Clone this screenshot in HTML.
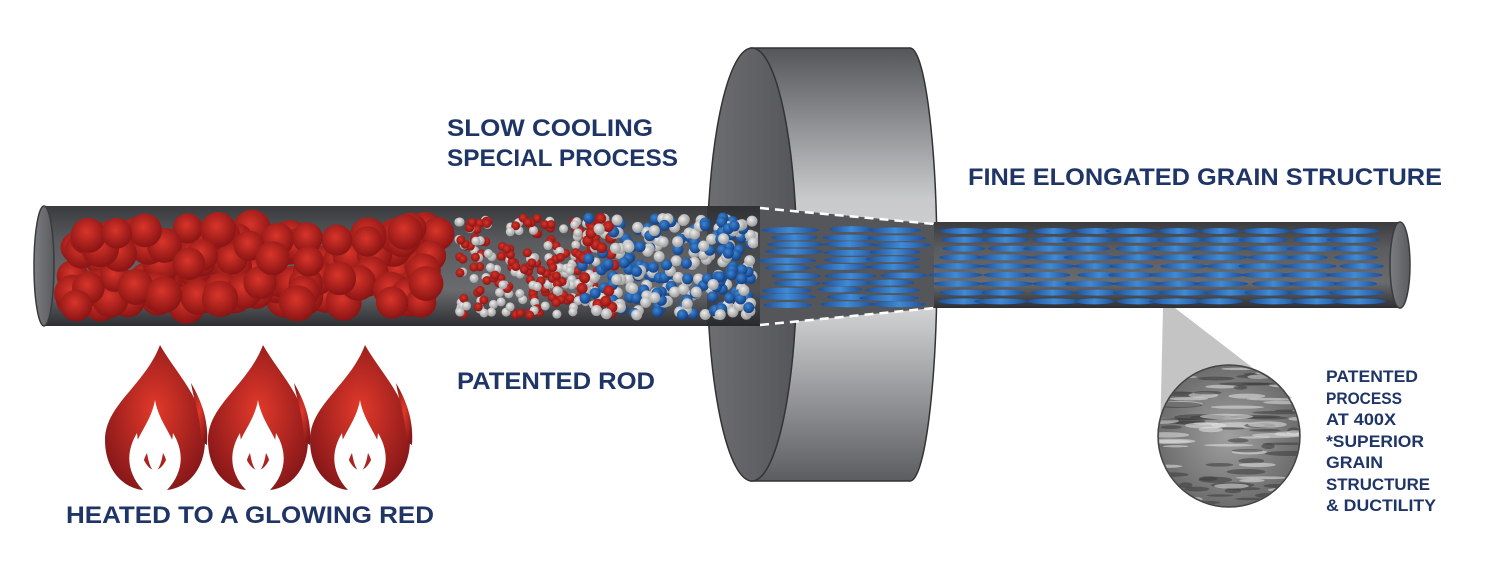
<!DOCTYPE html>
<html><head><meta charset="utf-8"><style>
html,body{margin:0;padding:0;background:#fff;width:1494px;height:566px;overflow:hidden}
svg{display:block}
text{font-family:"Liberation Sans",sans-serif;font-weight:bold;fill:#1f3566}
</style></head><body>
<svg id="s" width="1494" height="566" viewBox="0 0 1494 566" xmlns="http://www.w3.org/2000/svg">
<defs>
<linearGradient id="rod" x1="0" y1="0" x2="0" y2="1">
<stop offset="0" stop-color="#3a3b3e"/><stop offset="0.3" stop-color="#5a5b5e"/><stop offset="0.7" stop-color="#6a6b6e"/><stop offset="1" stop-color="#2e2f32"/></linearGradient>
<linearGradient id="cap" x1="0" y1="0" x2="1" y2="0"><stop offset="0" stop-color="#7c7d80"/><stop offset="1" stop-color="#5a5b5e"/></linearGradient>
<linearGradient id="body" x1="0" y1="0" x2="0" y2="1">
<stop offset="0" stop-color="#555659"/><stop offset="0.35" stop-color="#c9cacc"/><stop offset="0.6" stop-color="#d2d3d5"/><stop offset="1" stop-color="#5c5d60"/></linearGradient>
<linearGradient id="face" x1="0" y1="0" x2="1" y2="0"><stop offset="0" stop-color="#6d6e71"/><stop offset="1" stop-color="#55565a"/></linearGradient>
<radialGradient id="red" cx="0.45" cy="0.4" r="0.6"><stop offset="0" stop-color="#d8352a"/><stop offset="1" stop-color="#8a1414"/></radialGradient>
<radialGradient id="gray" cx="0.4" cy="0.35" r="0.65"><stop offset="0" stop-color="#eeeeee"/><stop offset="1" stop-color="#9a9a9a"/></radialGradient>
<radialGradient id="blue" cx="0.4" cy="0.35" r="0.65"><stop offset="0" stop-color="#3d86d4"/><stop offset="1" stop-color="#123f84"/></radialGradient>
<linearGradient id="bl" x1="0" y1="0" x2="1" y2="0"><stop offset="0" stop-color="#1b4f9a"/><stop offset="0.5" stop-color="#3f8ad6"/><stop offset="1" stop-color="#1b4f9a"/></linearGradient>
<radialGradient id="flame" cx="0.5" cy="0.45" r="0.6"><stop offset="0" stop-color="#e2392a"/><stop offset="1" stop-color="#861719"/></radialGradient>
<radialGradient id="mag" cx="0.5" cy="0.5" r="0.5"><stop offset="0" stop-color="#a0a0a0"/><stop offset="1" stop-color="#6d6d6d"/></radialGradient>
<clipPath id="cc"><circle cx="1229" cy="436" r="70"/></clipPath>
<clipPath id="lr"><rect x="42" y="208" width="716" height="117"/></clipPath>
<g id="fl">
<path d="M55,0 C72,30 100,55 100,95 C100,125 82,143 62,145 C78,128 80,108 68,88 C66,110 58,125 50,125 C42,125 34,110 32,88 C20,108 22,128 38,145 C18,143 0,125 0,95 C0,60 40,40 55,0 Z" fill="url(#flame)"/>
<path d="M50,55 C54,78 70,92 72,110 C73,128 66,140 58,145 C64,132 64,118 58,108 C56,120 53,126 50,126 C47,126 44,120 42,108 C36,118 36,132 42,145 C34,140 27,128 28,110 C30,92 46,78 50,55 Z" fill="#fff"/>
<path d="M86,38 C96,55 104,75 102,100 L96,96 C96,75 90,60 86,38 Z" fill="url(#flame)"/>
</g>
</defs>

<!-- die -->
<ellipse cx="910" cy="264.5" rx="27" ry="216.5" fill="url(#body)" stroke="#333" stroke-width="1.5"/>
<rect x="750" y="48" width="160" height="433" fill="url(#body)"/>
<line x1="750" y1="48" x2="910" y2="48" stroke="#333" stroke-width="1.5"/>
<line x1="750" y1="481" x2="910" y2="481" stroke="#333" stroke-width="1.5"/>
<ellipse cx="752" cy="264.5" rx="45" ry="216.5" fill="url(#face)" stroke="#333" stroke-width="1.5"/>

<!-- left rod -->
<rect x="42" y="206" width="718" height="120" fill="url(#rod)"/>
<rect x="707" y="206" width="53" height="120" fill="#1e1f22" opacity="0.35"/>
<ellipse cx="44" cy="266" rx="10" ry="60" fill="url(#cap)" stroke="#3a3b3e" stroke-width="1.5"/>
<g id="dots" clip-path="url(#lr)"></g>

<polygon points="760,207 934,224 934,308 760,325" fill="#55565a"/>
<g id="cone"></g>
<line x1="760" y1="208" x2="934" y2="224" stroke="#fff" stroke-width="2.5" stroke-dasharray="9,6"/>
<line x1="760" y1="325" x2="934" y2="308" stroke="#fff" stroke-width="2.5" stroke-dasharray="9,6"/>

<!-- right rod -->
<rect x="934" y="222" width="466" height="86" fill="url(#rod)"/>
<ellipse cx="1400" cy="265" rx="10" ry="43" fill="url(#cap)" stroke="#3a3b3e" stroke-width="1.5"/>
<g id="right"></g>

<!-- magnifier -->
<polygon points="1163,308 1175,308 1292,398 1160,440" fill="#c4c4c4"/>
<circle cx="1229" cy="436" r="71" fill="url(#mag)" stroke="#444" stroke-width="1.5"/>
<g id="tex" clip-path="url(#cc)"></g>

<!-- flames -->
<use href="#fl" transform="translate(105,345)"/>
<use href="#fl" transform="translate(208,345)"/>
<use href="#fl" transform="translate(310,345)"/>

<text x="447" y="136" font-size="24" textLength="206" lengthAdjust="spacingAndGlyphs">SLOW COOLING</text>
<text x="447" y="166" font-size="24" textLength="231" lengthAdjust="spacingAndGlyphs">SPECIAL PROCESS</text>
<text x="968" y="185" font-size="24" textLength="474" lengthAdjust="spacingAndGlyphs">FINE ELONGATED GRAIN STRUCTURE</text>
<text x="457" y="389" font-size="24" textLength="198" lengthAdjust="spacingAndGlyphs">PATENTED ROD</text>
<text x="66" y="523" font-size="24" textLength="368" lengthAdjust="spacingAndGlyphs">HEATED TO A GLOWING RED</text>
<g font-size="16.5">
<text x="1326" y="382" textLength="92" lengthAdjust="spacingAndGlyphs">PATENTED</text>
<text x="1326" y="404" textLength="76" lengthAdjust="spacingAndGlyphs">PROCESS</text>
<text x="1326" y="425" textLength="70" lengthAdjust="spacingAndGlyphs">AT 400X</text>
<text x="1326" y="447" textLength="98" lengthAdjust="spacingAndGlyphs">*SUPERIOR</text>
<text x="1326" y="468" textLength="57" lengthAdjust="spacingAndGlyphs">GRAIN</text>
<text x="1326" y="490" textLength="104" lengthAdjust="spacingAndGlyphs">STRUCTURE</text>
<text x="1326" y="511" textLength="110" lengthAdjust="spacingAndGlyphs">&amp; DUCTILITY</text>
</g>
</svg>
<script>
var NS="http://www.w3.org/2000/svg";
var seed=7;function r(){seed=(seed*16807)%2147483647;return (seed-1)/2147483646;}
function c(g,x,y,rad,f){var e=document.createElementNS(NS,"circle");e.setAttribute("cx",x);e.setAttribute("cy",y);e.setAttribute("r",rad);e.setAttribute("fill",f);g.appendChild(e);}
function el(g,x,y,rx,ry,f){var e=document.createElementNS(NS,"ellipse");e.setAttribute("cx",x);e.setAttribute("cy",y);e.setAttribute("rx",rx);e.setAttribute("ry",ry);e.setAttribute("fill",f);g.appendChild(e);}
var d=document.getElementById("dots");
for(var i=0;i<150;i++){c(d,72+r()*368,228+r()*78,15+r()*4,"url(#red)");}
for(var i=0;i<240;i++){var x=458+r()*140;c(d,x,218+r()*98,4.5,r()<0.55?"url(#red)":"url(#gray)");}
for(var i=0;i<280;i++){var x=582+r()*172;var f=r()<0.5?"url(#blue)":"url(#gray)";if(x<615&&r()<0.4)f="url(#red)";c(d,x,218+r()*98,5.5,f);}
var cn=document.getElementById("cone");
for(var row=0;row<11;row++){var y=229+row*7.5;for(var k=0;k<3;k++){el(cn,785+k*52+r()*15,y+r()*2,22+r()*8,3,"url(#bl)");}}
var rt=document.getElementById("right");
for(var row=0;row<9;row++){var y=231+row*8.8;for(var k=0;k<10;k++){el(rt,955+k*44+r()*12,y,20+r()*8,3,"url(#bl)");}}
var t=document.getElementById("tex");
for(var i=0;i<90;i++){var f=r()<0.55?"#e4e4e4":"#3a3a3a";var e=document.createElementNS(NS,"ellipse");e.setAttribute("cx",1160+r()*140);e.setAttribute("cy",368+r()*136);e.setAttribute("rx",6+r()*22);e.setAttribute("ry",1+r()*2.2);e.setAttribute("fill",f);e.setAttribute("opacity",0.55);t.appendChild(e);}
</script>
</body></html>
